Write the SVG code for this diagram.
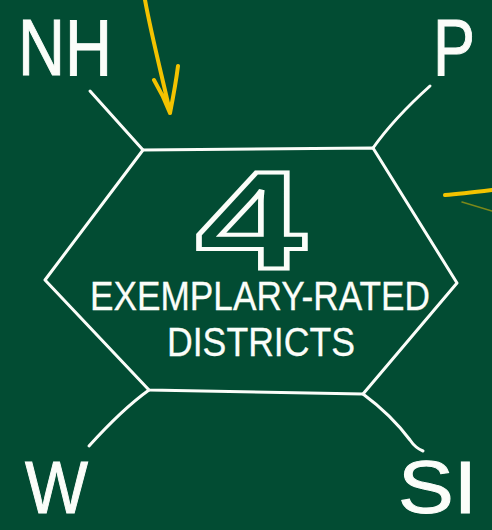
<svg xmlns="http://www.w3.org/2000/svg" width="492" height="530" viewBox="0 0 492 530">
<style>
.chalk{fill:none;stroke:#fbfdf9;stroke-width:3;stroke-linecap:round;stroke-linejoin:round}
.lbl{font-family:"Liberation Sans",Arial,sans-serif;fill:#fbfdf9;stroke:#fbfdf9;stroke-width:1}
.yel{fill:none;stroke:#f3c300;stroke-linecap:round;stroke-linejoin:round}
</style>
<rect width="492" height="530" fill="#024c33"/>
<g id="center">
<path class="chalk" d="M143,150 L373,148 L457,283 L363,394 L149,390 L45,280 Z"/>
<text class="lbl" x="196" y="269" font-size="140" font-weight="bold" textLength="110" lengthAdjust="spacingAndGlyphs" style="fill:#024c33;stroke-width:4">4</text>
<text class="lbl" x="90" y="310" font-size="40" textLength="340" lengthAdjust="spacingAndGlyphs" style="stroke-width:0.3">EXEMPLARY-RATED</text>
<text class="lbl" x="167" y="356" font-size="40" textLength="188" lengthAdjust="spacingAndGlyphs" style="stroke-width:0.3">DISTRICTS</text>
</g>
<g id="nh"><text class="lbl" x="18" y="75" font-size="80" textLength="94" lengthAdjust="spacingAndGlyphs">NH</text></g>
<g id="p"><text class="lbl" x="433" y="75" font-size="80" textLength="42" lengthAdjust="spacingAndGlyphs">P</text></g>
<g id="w"><text class="lbl" x="25" y="513" font-size="75" textLength="63" lengthAdjust="spacingAndGlyphs">W</text></g>
<g id="si"><text class="lbl" x="398" y="513" font-size="75" textLength="79" lengthAdjust="spacingAndGlyphs">SI</text></g>
<g id="connectors">
<path class="chalk" d="M90,91 L143,150"/>
<path class="chalk" d="M430,86 C410,104 390,124 373,148"/>
<path class="chalk" d="M89,446 C108,425 128,405 149,390"/>
<path class="chalk" d="M363,394 C382,408 398,424 410,440 C414,446 418,449 423,451"/>
</g>
<g id="annotations">
<path class="yel" stroke-width="4" d="M145,0 C152,38 162,76 170,112 M154,80 C160,90 165,100 170,113 M178,66 C176,82 173,98 170,113"/>
<path class="yel" stroke-width="4" d="M445,195 C460,194 476,192 492,190"/>
<path class="yel" stroke-width="1.5" opacity="0.5" d="M462,202 C472,205 482,208 492,211"/>
</g>
</svg>
